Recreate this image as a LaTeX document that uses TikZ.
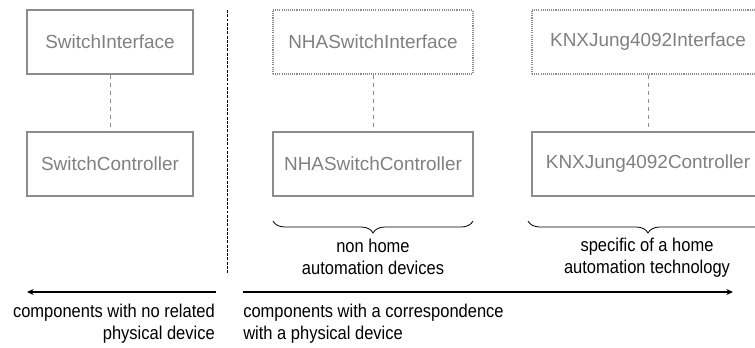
\documentclass[tikz,border=0pt]{standalone}
\usepackage{fontspec}
\setmainfont{Liberation Sans}
\newfontfamily\narrowf{Liberation Sans}[FakeStretch=0.89]
\usetikzlibrary{arrows.meta,decorations.pathreplacing}
\definecolor{boxgray}{RGB}{140,140,140}
\definecolor{txtgray}{RGB}{128,128,128}
\tikzset{
  comp/.style={draw=boxgray,line width=1.1pt,minimum height=64*0.75pt,inner sep=0pt,
    text=txtgray,font=\fontsize{14.2pt}{16pt}\selectfont},
  iface/.style={comp,line width=0.8pt,dash pattern=on 0.8pt off 0.8pt},
  link/.style={draw=boxgray,line width=0.7pt,dash pattern=on 3.5pt off 2.5pt},
  divider/.style={draw=black,line width=0.7pt,dash pattern=on 2.2pt off 1pt},
  lbl/.style={font=\narrowf\fontsize{13.9pt}{16.5pt}\selectfont,align=center,inner sep=0pt},
  brc/.style={draw=black,line width=0.6pt,decorate,decoration={brace,amplitude=9pt,mirror}},
  axis/.style={draw=black,line width=0.8pt,-{Stealth[length=5pt,width=4.5pt]}}
}
\begin{document}
\begin{tikzpicture}[x=0.75pt,y=-0.75pt]
\useasboundingbox (0,0) rectangle (755,347);
\clip (0,0) rectangle (755,347);
% components
\node[comp,minimum width=166*0.75pt] (si) at (110,42) {SwitchInterface};
\node[comp,minimum width=166*0.75pt] (sc) at (110,164) {SwitchController};
\node[iface,minimum width=200*0.75pt] (ni) at (373,42) {NHASwitchInterface};
\node[comp,minimum width=200*0.75pt] (nc) at (373,164) {NHASwitchController};
\node[iface,minimum width=232*0.75pt] (ki) at (648,42) {KNXJung4092Interface};
\node[comp,minimum width=232*0.75pt] (kc) at (648,164) {KNXJung4092Controller};
\draw[link] (si) -- (sc);
\draw[link] (ni) -- (nc);
\draw[link] (ki) -- (kc);
% divider
\coordinate (dtop) at (227,10);
\coordinate (dbot) at (227,273);
\draw[divider] (dtop) -- (dbot);
% braces
\coordinate (b1a) at (273,221);
\coordinate (b1b) at (473,221);
\coordinate (b2a) at (528,221);
\coordinate (b2b) at (768,221);
\draw[brc] (b1a) -- (b1b);
\draw[brc] (b2a) -- (b2b);
\node[lbl] (t1) at (373,257) {non home\\automation devices};
\node[lbl] (t2) at (647,258) {specific of a home\\automation technology};
% axes
\coordinate (la) at (216,292);
\coordinate (lb) at (27,292);
\coordinate (ra) at (243,292);
\coordinate (rb) at (733,292);
\draw[axis] (la) -- (lb);
\draw[axis] (ra) -- (rb);
\node[lbl,align=right,anchor=north east] (tl) at (215,304) {components with no related\\physical device};
\node[lbl,align=left,anchor=north west] (tr) at (243,304) {components with a correspondence\\with a physical device};
\end{tikzpicture}
\end{document}
